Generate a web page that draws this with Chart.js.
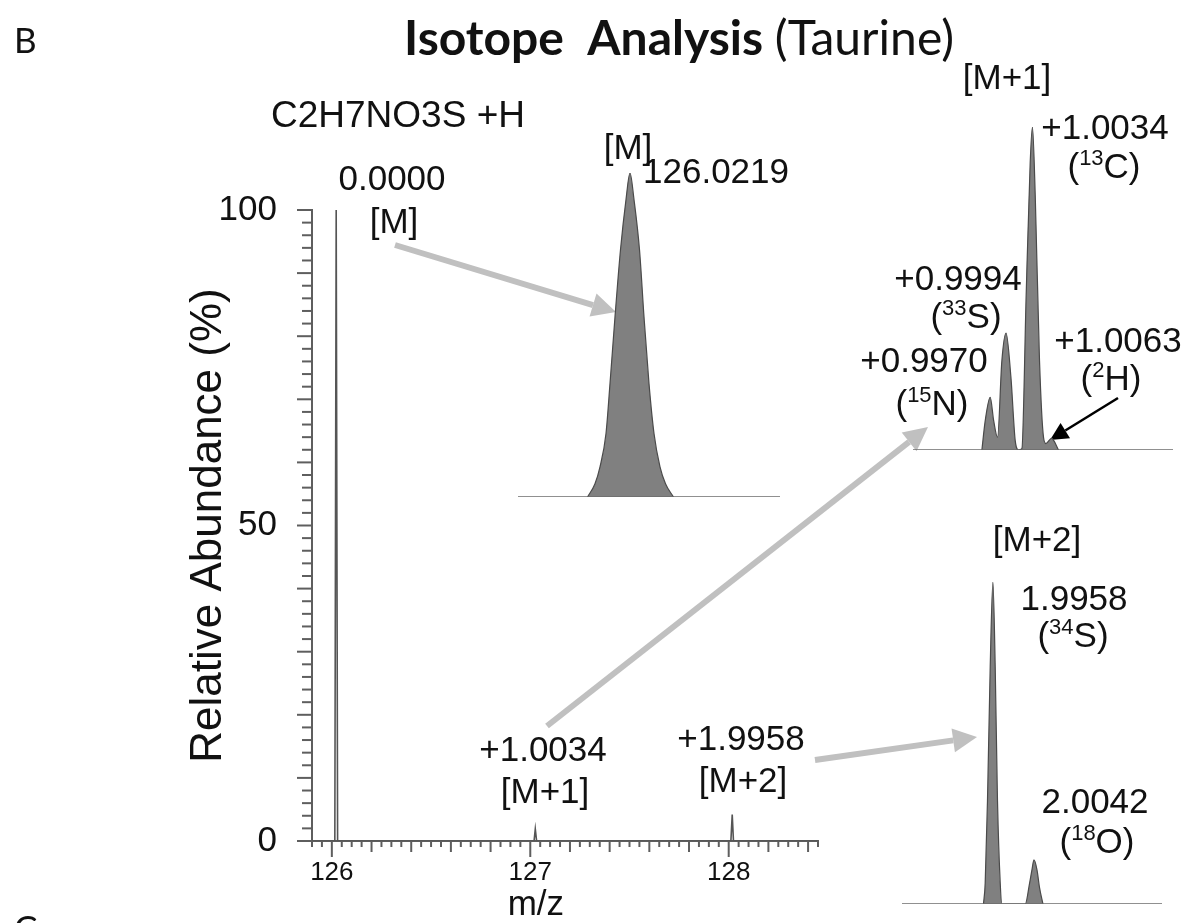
<!DOCTYPE html>
<html lang="en">
<head>
<meta charset="UTF-8" />
<title>Isotope Analysis (Taurine)</title>
<script src="https://cdn.jsdelivr.net/npm/chart.js"></script>
<style>
  body { margin: 0; background: #fff; }
  #wrap { position: relative; width: 1186px; height: 923px; overflow: hidden; }
  canvas { position: absolute; }
</style>
</head>
<body>
<div id="wrap">
  <canvas id="mainChart" width="1186" height="923" style="left:0;top:0"></canvas>
  <canvas id="insetM" width="270" height="332" style="left:514px;top:169px"></canvas>
  <canvas id="insetM1" width="268" height="331" style="left:909px;top:123px"></canvas>
  <canvas id="insetM2" width="268" height="330" style="left:898px;top:578px"></canvas>
</div>
<script>
// full scan (m/z vs relative abundance %)
const scanMz    = [125.9, 126.015, 126.0219, 126.029, 127.019, 127.0253, 127.032, 128.011, 128.0177, 128.024, 128.45];
const scanAbund = [0, 0, 100, 0, 0, 1.9, 0, 0, 4.2, 0, 0];

// zoom on [M]
const mRange = [125.9995, 126.0519];
const mMz    = [126.0134, 126.0149, 126.0159, 126.0171, 126.0179, 126.0189, 126.0200, 126.0211, 126.0219,
                126.0227, 126.0238, 126.0247, 126.0257, 126.0267, 126.0279, 126.0290, 126.0306];
const mAbund = [0, 4.1, 9.3, 19.6, 35, 55.6, 76.3, 91.8, 100, 91.8, 76.3, 55.6, 35, 19.6, 9.3, 4.1, 0];

// zoom on [M+1], mass shift from [M]
const m1Range = [0.9853, 1.0247];
const m1Shift = [0.99574, 0.99624, 0.99700, 0.99753, 0.99811, 0.99877, 0.99940, 1.00014, 1.00079, 1.00129,
                 1.00180, 1.00245, 1.00306, 1.00340, 1.00382, 1.00447, 1.00508, 1.00544, 1.00630, 1.00735];
const m1Abund = [0, 9, 16.3, 9, 3.9, 27.7, 36.2, 22.5, 2.9, 0,
                 0.4, 48, 89, 100, 79, 27.7, 3.9, 2, 3.6, 0];

// zoom on [M+2], mass shift from [M]
const m2Range = [1.9772, 2.0304];
const m2Shift = [1.99387, 1.99422, 1.99469, 1.99525, 1.99580, 1.99627, 1.99674, 1.99730, 1.99764,
                 2.00242, 2.00330, 2.00379, 2.00420, 2.00482, 2.00535, 2.00604];
const m2Abund = [0, 6.4, 32, 73.7, 100, 73.7, 32, 6.4, 0,
                 0, 6.4, 10.6, 13.7, 10.6, 5, 0];

const yTickLabels = [0, 50, 100];
const xTickLabels = [126, 127, 128];

const FONT = '"Liberation Sans", Arial, sans-serif';

// text labels ('^' toggles superscript)
const notes = [
  { t: 'C2H7NO3S +H', x: 398, y: 114, size: 37 },
  { t: '0.0000', x: 392, y: 177 },
  { t: '[M]', x: 394, y: 220 },
  { t: '[M]', x: 628, y: 146 },
  { t: '126.0219', x: 716, y: 170 },
  { t: '+1.0034', x: 543, y: 748 },
  { t: '[M+1]', x: 545, y: 790 },
  { t: '+1.9958', x: 741, y: 737 },
  { t: '[M+2]', x: 743, y: 779 },
  { t: '[M+1]', x: 1007, y: 76 },
  { t: '+1.0034', x: 1105, y: 126 },
  { t: '(^13^C)', x: 1104, y: 165 },
  { t: '+0.9994', x: 958, y: 277 },
  { t: '(^33^S)', x: 966, y: 315 },
  { t: '+0.9970', x: 924, y: 359 },
  { t: '(^15^N)', x: 932, y: 402 },
  { t: '+1.0063', x: 1118, y: 339 },
  { t: '(^2^H)', x: 1111, y: 377 },
  { t: '[M+2]', x: 1037, y: 538 },
  { t: '1.9958', x: 1074, y: 597 },
  { t: '(^34^S)', x: 1073, y: 634 },
  { t: '2.0042', x: 1095, y: 800 },
  { t: '(^18^O)', x: 1097, y: 840 }
];

const arrows = [
  { from: [395, 245], to: [616, 312], color: '#c0c0c0', w: 6, head: 24 },
  { from: [547, 726], to: [928, 427], color: '#c0c0c0', w: 6, head: 24 },
  { from: [815, 760], to: [977, 737], color: '#c0c0c0', w: 6, head: 24 },
  { from: [1118, 398], to: [1050, 440], color: '#000', w: 2.5, head: 18 }
];

function drawRich(ctx, text, cx, cy, size) {
  const parts = text.split('^');
  const big = size + 'px ' + FONT;
  const small = Math.round(size * 0.62) + 'px ' + FONT;
  let w = 0;
  parts.forEach((p, i) => { ctx.font = i % 2 ? small : big; w += ctx.measureText(p).width; });
  let x = cx - w / 2;
  const base = cy + size * 0.36;
  ctx.textAlign = 'left';
  ctx.textBaseline = 'alphabetic';
  parts.forEach((p, i) => {
    ctx.font = i % 2 ? small : big;
    ctx.fillText(p, x, i % 2 ? base - size * 0.36 : base);
    x += ctx.measureText(p).width;
  });
}

function drawArrow(ctx, a) {
  const [x0, y0] = a.from, [x1, y1] = a.to;
  const ang = Math.atan2(y1 - y0, x1 - x0);
  const bx = x1 - Math.cos(ang) * a.head, by = y1 - Math.sin(ang) * a.head;
  ctx.strokeStyle = a.color;
  ctx.fillStyle = a.color;
  ctx.lineWidth = a.w;
  ctx.beginPath();
  ctx.moveTo(x0, y0);
  ctx.lineTo(bx, by);
  ctx.stroke();
  const hw = a.head * 0.5;
  ctx.beginPath();
  ctx.moveTo(x1, y1);
  ctx.lineTo(bx + Math.sin(ang) * hw, by - Math.cos(ang) * hw);
  ctx.lineTo(bx - Math.sin(ang) * hw, by + Math.cos(ang) * hw);
  ctx.closePath();
  ctx.fill();
}

const tickMarks = {
  id: 'tickMarks',
  afterDraw(chart) {
    const { ctx, chartArea } = chart;
    const xs = chart.scales.x, ys = chart.scales.y;
    ctx.save();
    ctx.strokeStyle = '#5e5e5e';
    ctx.lineWidth = 2;
    xs.ticks.forEach(t => {
      const k = Math.round(t.value * 20);
      const len = k % 20 === 0 ? 16 : (k % 4 === 0 ? 11 : 6);
      const px = xs.getPixelForValue(t.value);
      ctx.beginPath();
      ctx.moveTo(px, chartArea.bottom);
      ctx.lineTo(px, chartArea.bottom + len);
      ctx.stroke();
    });
    ys.ticks.forEach(t => {
      const len = Math.round(t.value) % 10 === 0 ? 15 : 10;
      const py = ys.getPixelForValue(t.value);
      ctx.beginPath();
      ctx.moveTo(chartArea.left, py);
      ctx.lineTo(chartArea.left - len, py);
      ctx.stroke();
    });
    ctx.restore();
  }
};

const annotations = {
  id: 'annotations',
  afterDraw(chart) {
    const ctx = chart.ctx;
    ctx.save();
    arrows.forEach(a => drawArrow(ctx, a));
    ctx.fillStyle = '#111';
    notes.forEach(n => drawRich(ctx, n.t, n.x, n.y, n.size || 35));

    // panel letters and heading
    ctx.textBaseline = 'middle';
    ctx.textAlign = 'left';
    ctx.font = '35px Lato, "Open Sans", sans-serif';
    ctx.fillText('B', 14, 42);
    ctx.fillText('C', 14, 930);
    const boldPart = 'Isotope  Analysis ';
    const plainPart = '(Taurine)';
    ctx.font = 'bold 48px Lato, "Open Sans", sans-serif';
    const w1 = ctx.measureText(boldPart).width;
    ctx.font = '48px Lato, "Open Sans", sans-serif';
    const w2 = ctx.measureText(plainPart).width;
    const x0 = 679 - (w1 + w2) / 2;
    ctx.font = 'bold 48px Lato, "Open Sans", sans-serif';
    ctx.fillText(boldPart, x0, 40);
    ctx.font = '48px Lato, "Open Sans", sans-serif';
    ctx.fillText(plainPart, x0 + w1, 40);
    ctx.restore();
  }
};

new Chart(document.getElementById('mainChart'), {
  type: 'line',
  data: {
    datasets: [{
      data: scanMz.map((x, i) => ({ x, y: scanAbund[i] })),
      borderColor: '#555',
      borderWidth: 1.6,
      pointRadius: 0,
      fill: false,
      tension: 0
    }]
  },
  options: {
    responsive: false,
    animation: false,
    devicePixelRatio: 1,
    layout: { padding: { left: 0, top: 210, right: 368, bottom: 0 } },
    plugins: { legend: { display: false }, tooltip: { enabled: false } },
    scales: {
      x: {
        type: 'linear',
        min: 125.9,
        max: 128.45,
        bounds: 'data',
        afterFit: s => { s.height = 82; },
        border: { display: true, color: '#5e5e5e', width: 2 },
        grid: { display: false, drawTicks: false },
        ticks: {
          stepSize: 0.05,
          autoSkip: false,
          maxRotation: 0,
          minRotation: 0,
          padding: 16,
          color: '#111',
          font: { family: FONT, size: 26 },
          callback: v => {
            const r = Math.round(v);
            return Math.abs(v - r) < 1e-6 && xTickLabels.includes(r) ? String(r) : '';
          }
        },
        title: {
          display: true,
          text: 'm/z      ',
          color: '#111',
          font: { family: FONT, size: 35, lineHeight: 1 },
          padding: { top: 0, bottom: 0 }
        }
      },
      y: {
        min: 0,
        max: 100,
        afterFit: s => { s.width = 312; },
        border: { display: true, color: '#5e5e5e', width: 2 },
        grid: { display: false, drawTicks: false },
        ticks: {
          stepSize: 2,
          autoSkip: false,
          padding: 35,
          color: '#111',
          font: { family: FONT, size: 35 },
          callback: v => yTickLabels.includes(Math.round(v)) && Math.abs(v - Math.round(v)) < 1e-6 ? String(Math.round(v)) : ''
        },
        title: {
          display: true,
          text: 'Relative Abundance (%)',
          color: '#111',
          font: { family: FONT, size: 44 },
          padding: { top: 182, bottom: 0 }
        }
      }
    }
  },
  plugins: [tickMarks, annotations]
});

function makeInset(id, xs, ys, range) {
  new Chart(document.getElementById(id), {
    type: 'line',
    data: {
      datasets: [
        {
          data: [{ x: range[0], y: 0 }, { x: range[1], y: 0 }],
          borderColor: '#6b6b6b',
          borderWidth: 1.6,
          pointRadius: 0
        },
        {
          data: xs.map((x, i) => ({ x, y: ys[i] })),
          borderColor: '#4a4a4a',
          borderWidth: 1.2,
          backgroundColor: '#808080',
          fill: 'origin',
          pointRadius: 0,
          cubicInterpolationMode: 'monotone'
        }
      ]
    },
    options: {
      responsive: false,
      animation: false,
      devicePixelRatio: 1,
      layout: { padding: 4 },
      plugins: { legend: { display: false }, tooltip: { enabled: false } },
      scales: {
        x: { type: 'linear', display: false, min: range[0], max: range[1] },
        y: { display: false, min: 0, max: 100 }
      }
    }
  });
}

makeInset('insetM', mMz, mAbund, mRange);
makeInset('insetM1', m1Shift, m1Abund, m1Range);
makeInset('insetM2', m2Shift, m2Abund, m2Range);
</script>
</body>
</html>
